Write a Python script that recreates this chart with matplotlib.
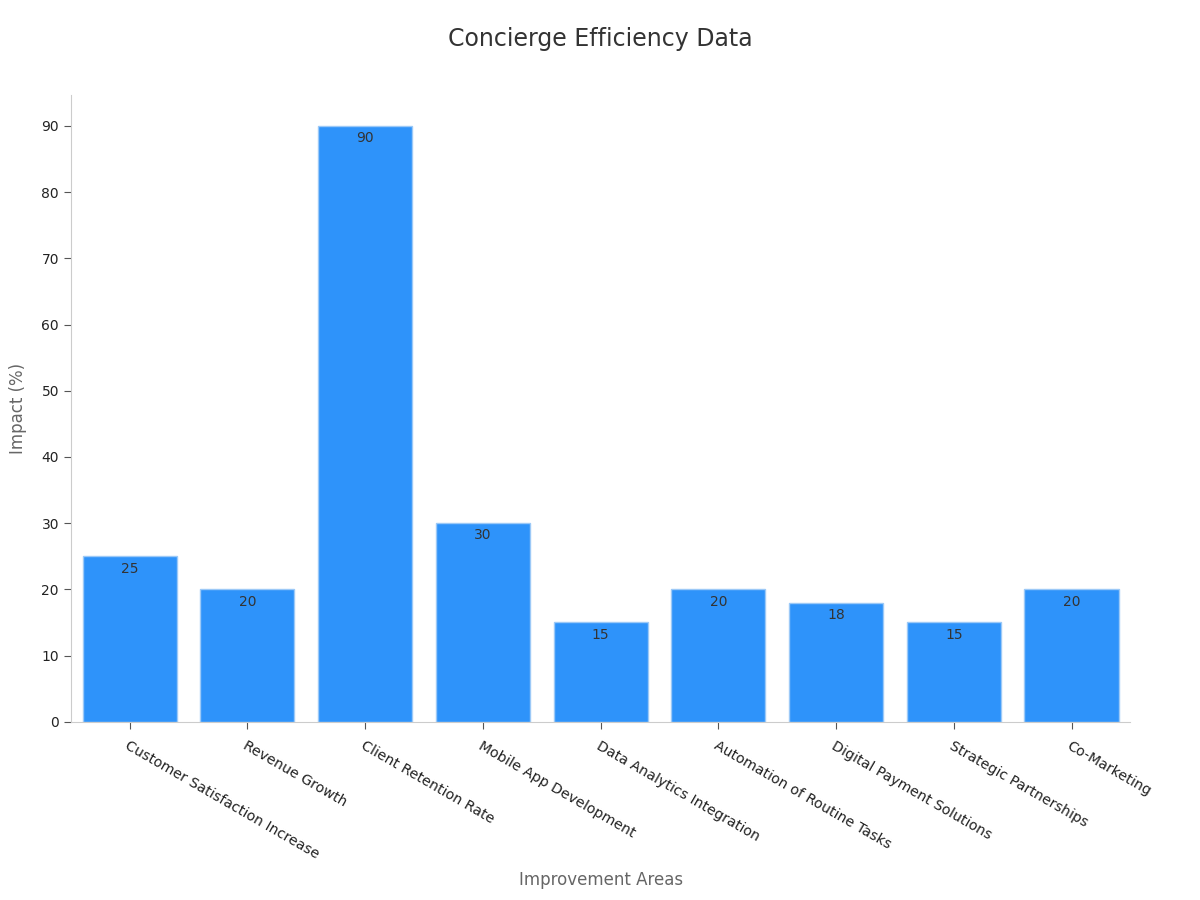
import matplotlib.pyplot as plt
import numpy as np

# данные
categories = [
    "Customer Satisfaction Increase",
    "Revenue Growth",
    "Client Retention Rate",
    "Mobile App Development",
    "Data Analytics Integration",
    "Automation of Routine Tasks",
    "Digital Payment Solutions",
    "Strategic Partnerships",
    "Co-Marketing",
]
impact = [25, 20, 90, 30, 15, 20, 18, 15, 20]
y_ticks = [0, 10, 20, 30, 40, 50, 60, 70, 80, 90]

fig = plt.figure(figsize=(12, 9), dpi=100)
ax = fig.add_axes([0.059, 0.198, 0.883, 0.696])

x = np.arange(len(categories))
bars = ax.bar(x, impact, width=0.8, color="#2E93FA", edgecolor="#9cc9f7", linewidth=1)

for rect, v in zip(bars, impact):
    ax.text(rect.get_x() + rect.get_width() / 2, v - 0.8, str(v),
            ha="center", va="top", fontsize=10, color="#333333")

ax.set_xlim(-0.5, len(categories) - 0.5)
ax.set_ylim(0, 94.6)
ax.set_yticks(y_ticks)
ax.set_xticks(x)
ax.set_xticklabels(categories, rotation=-30, ha="left", rotation_mode="anchor",
                   fontsize=10.2, color="#222222")
ax.tick_params(axis="y", labelsize=10, colors="#222222", length=5, color="#555555")
ax.tick_params(axis="x", length=5, color="#555555", pad=7)

for s in ["top", "right"]:
    ax.spines[s].set_visible(False)
for s in ["left", "bottom"]:
    ax.spines[s].set_color("#cccccc")

ax.set_ylabel("Impact (%)", fontsize=12, color="#666666", labelpad=10)
ax.set_xlabel("Improvement Areas", fontsize=12, color="#666666", va="center")
ax.xaxis.set_label_coords(0.5, -0.252)
fig.suptitle("Concierge Efficiency Data", fontsize=17, color="#333333", y=0.97)

fig.savefig("out.png", dpi=100)
